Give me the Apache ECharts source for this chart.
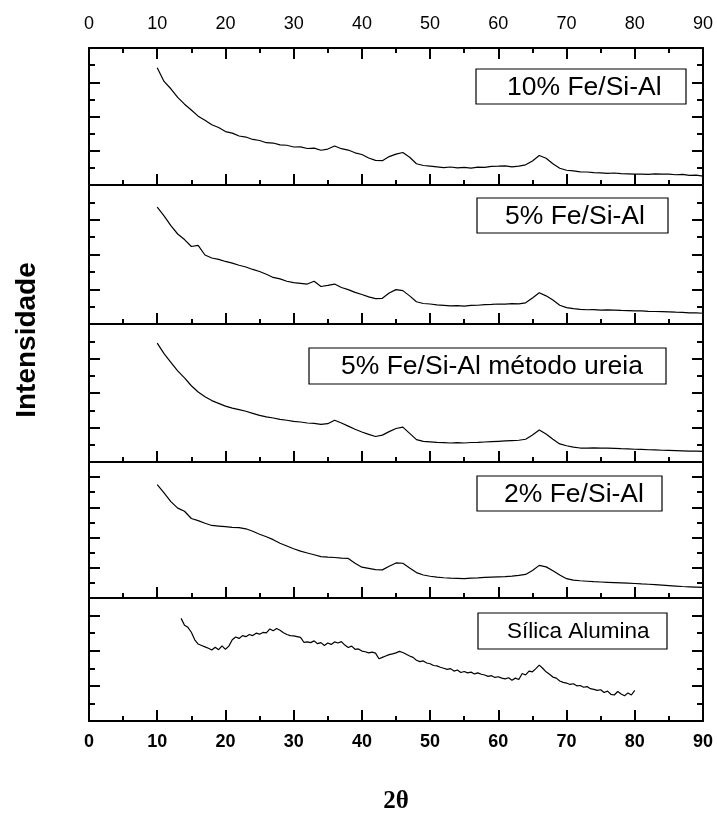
<!DOCTYPE html>
<html>
<head>
<meta charset="utf-8">
<script src="https://cdn.jsdelivr.net/npm/echarts@6/dist/echarts.min.js"></script>
<style>
html,body{margin:0;padding:0;background:#fff;}
#chart{width:717px;height:815px;}
</style>
</head>
<body>
<div id="chart"></div>
<script>
// ---- data ----
const xTicks = [0, 10, 20, 30, 40, 50, 60, 70, 80, 90];
const panelLabels = ['10% Fe/Si-Al', '5% Fe/Si-Al', '5% Fe/Si-Al método ureia', '2% Fe/Si-Al', 'Sílica Alumina'];
const yLabel = 'Intensidade';
const xLabel = '2θ';

const twoTheta = [10,11,12,13,14,15,16,17,18,19,20,21,22,23,24,25,26,27,28,29,30,31,32,33,34,35,36,37,38,39,40,41,42,43,44,45,46,47,48,49,50,51,52,53,54,55,56,57,58,59,60,61,62,63,64,65,66,67,68,69,70,71,72,73,74,75,76,77,78,79,80,81,82,83,84,85,86,87,88,89,90];

const fe10 = [6.85,6.05,5.62,5.12,4.72,4.38,4.02,3.78,3.52,3.36,3.12,3.03,2.86,2.80,2.66,2.60,2.47,2.45,2.34,2.32,2.22,2.23,2.13,2.15,2.03,2.10,2.28,2.12,2.04,1.88,1.78,1.58,1.44,1.42,1.66,1.80,1.90,1.62,1.24,1.14,1.10,1.06,1.02,1.05,1.00,1.03,0.99,1.04,1.03,1.09,1.10,1.12,1.06,1.10,1.18,1.40,1.72,1.56,1.24,0.98,0.86,0.82,0.77,0.76,0.72,0.71,0.68,0.70,0.66,0.65,0.63,0.64,0.62,0.65,0.63,0.64,0.60,0.62,0.56,0.58,0.52];

const fe5 = [6.72,6.22,5.66,5.18,4.86,4.46,4.52,3.97,3.80,3.72,3.60,3.50,3.38,3.28,3.14,3.02,2.86,2.68,2.60,2.46,2.38,2.34,2.30,2.46,2.16,2.22,2.30,2.10,1.98,1.82,1.70,1.56,1.46,1.48,1.78,1.98,1.92,1.62,1.28,1.18,1.15,1.10,1.07,1.04,1.06,1.03,1.07,1.08,1.12,1.13,1.15,1.14,1.17,1.16,1.22,1.50,1.80,1.62,1.38,1.08,0.94,0.88,0.84,0.82,0.83,0.80,0.81,0.80,0.78,0.77,0.76,0.75,0.73,0.72,0.71,0.70,0.68,0.67,0.64,0.64,0.62];

const fe5urea = [6.89,6.28,5.78,5.28,4.88,4.42,4.06,3.78,3.56,3.40,3.24,3.12,3.04,2.94,2.82,2.70,2.62,2.55,2.47,2.42,2.35,2.32,2.26,2.24,2.18,2.22,2.42,2.26,2.08,1.90,1.74,1.60,1.48,1.56,1.76,1.94,2.02,1.66,1.30,1.20,1.17,1.14,1.12,1.10,1.12,1.10,1.13,1.14,1.16,1.18,1.20,1.22,1.24,1.26,1.32,1.56,1.86,1.62,1.32,1.05,0.94,0.86,0.81,0.80,0.82,0.80,0.81,0.79,0.77,0.76,0.74,0.73,0.71,0.70,0.68,0.67,0.66,0.65,0.63,0.63,0.62];

const fe2 = [7.51,6.95,6.38,5.95,5.74,5.26,5.12,4.95,4.80,4.76,4.72,4.68,4.66,4.58,4.42,4.22,4.05,3.86,3.62,3.44,3.26,3.10,2.98,2.86,2.74,2.70,2.68,2.64,2.62,2.30,2.04,1.96,1.88,1.86,2.10,2.32,2.30,1.98,1.68,1.52,1.44,1.38,1.34,1.31,1.30,1.28,1.31,1.33,1.36,1.38,1.40,1.42,1.45,1.50,1.56,1.82,2.16,2.06,1.80,1.52,1.28,1.18,1.14,1.11,1.08,1.06,1.04,1.02,1.00,0.98,0.96,0.93,0.91,0.88,0.85,0.82,0.79,0.76,0.74,0.72,0.70];

const twoThetaSA = [13.5,14,14.5,15,15.5,16,16.5,17,17.5,18,18.5,19,19.5,20,20.5,21,21.5,22,22.5,23,23.5,24,24.5,25,25.5,26,26.5,27,27.5,28,28.5,29,29.5,30,30.5,31,31.5,32,32.5,33,33.5,34,34.5,35,35.5,36,36.5,37,37.5,38,38.5,39,39.5,40,40.5,41,41.5,42,42.5,43,43.5,44,44.5,45,45.5,46,46.5,47,47.5,48,48.5,49,49.5,50,50.5,51,51.5,52,52.5,53,53.5,54,54.5,55,55.5,56,56.5,57,57.5,58,58.5,59,59.5,60,60.5,61,61.5,62,62.5,63,63.5,64,64.5,65,65.5,66,66.5,67,67.5,68,68.5,69,69.5,70,70.5,71,71.5,72,72.5,73,73.5,74,74.5,75,75.5,76,76.5,77,77.5,78,78.5,79,79.5,80];

const silicaAlumina = [5.84,5.45,5.33,5.05,4.62,4.38,4.30,4.22,4.14,4.04,4.20,4.06,4.28,4.08,4.26,4.62,4.78,4.70,4.86,4.80,4.92,4.86,5.00,4.94,5.04,5.02,5.24,5.14,5.26,5.16,5.02,4.92,4.86,4.84,4.80,4.76,4.48,4.50,4.46,4.56,4.40,4.46,4.30,4.44,4.36,4.50,4.44,4.52,4.32,4.18,4.26,4.08,4.10,3.98,3.94,3.88,3.92,3.86,3.54,3.62,3.70,3.78,3.82,3.88,3.96,3.90,3.80,3.70,3.62,3.46,3.38,3.42,3.30,3.26,3.16,3.14,3.06,3.00,2.94,2.98,2.84,2.90,2.76,2.82,2.74,2.78,2.68,2.74,2.66,2.62,2.54,2.58,2.48,2.52,2.44,2.40,2.46,2.32,2.44,2.36,2.70,2.62,2.84,2.80,2.98,3.18,3.00,2.80,2.66,2.50,2.44,2.28,2.20,2.16,2.08,2.12,2.00,2.02,1.92,1.96,1.84,1.80,1.74,1.78,1.62,1.70,1.52,1.48,1.68,1.54,1.44,1.60,1.48,1.74];

const panelYMax = [8, 8, 8, 9, 7];

// ---- layout ----
const panelTops = [48, 185, 324, 462, 598];
const panelHeights = [137, 139, 138, 136, 138];
const boxes = [
  {x: 476, y: 69, w: 210, h: 35, tx: 507, fs: 26.5},
  {x: 477, y: 198, w: 191, h: 35, tx: 505, fs: 26.5},
  {x: 309, y: 348, w: 357, h: 36, tx: 341, fs: 26.5},
  {x: 477, y: 476, w: 185, h: 35, tx: 504, fs: 26.5},
  {x: 478, y: 613, w: 189, h: 36, tx: 507, fs: 22.5}
];

const seriesX = [twoTheta, twoTheta, twoTheta, twoTheta, twoThetaSA];
const seriesY = [fe10, fe5, fe5urea, fe2, silicaAlumina];

const black = '#000';
const grids = [], xAxes = [], yAxes = [], series = [], graphics = [];

for (let i = 0; i < 5; i++) {
  grids.push({left: 89, width: 614, top: panelTops[i], height: panelHeights[i]});
  const tickCommon = {
    axisLine: {show: true, onZero: false, lineStyle: {color: black, width: 2}},
    axisTick: {show: true, inside: true, length: 11, lineStyle: {color: black, width: 2}},
    minorTick: {show: true, splitNumber: 2, length: 5, lineStyle: {color: black, width: 2}},
    splitLine: {show: false},
    minorSplitLine: {show: false}
  };
  xAxes.push(Object.assign({
    type: 'value', gridIndex: i, position: 'bottom', min: 0, max: 90, interval: 10,
    axisLabel: {show: i === 4, color: black, fontFamily: 'Liberation Sans', fontWeight: 'bold', fontSize: 18, margin: 12},
    name: i === 4 ? xLabel : '', nameLocation: 'middle', nameGap: 68,
    nameTextStyle: {color: black, fontFamily: 'Liberation Serif', fontWeight: 'bold', fontSize: 25}
  }, tickCommon));
  yAxes.push(Object.assign({
    type: 'value', gridIndex: i, position: 'left', min: 0, max: panelYMax[i], interval: 2,
    axisLabel: {show: false}
  }, tickCommon, {minorTick: {show: true, splitNumber: 2, length: 6, lineStyle: {color: black, width: 2}}}));
  yAxes.push(Object.assign({
    type: 'value', gridIndex: i, position: 'right', min: 0, max: panelYMax[i], interval: 2,
    axisLabel: {show: false}
  }, tickCommon, {minorTick: {show: true, splitNumber: 2, length: 6, lineStyle: {color: black, width: 2}}}));
  series.push({
    type: 'line', xAxisIndex: i, yAxisIndex: i * 2, showSymbol: false, silent: true,
    lineStyle: {color: black, width: 1.2}, animation: false,
    data: seriesX[i].map((x, k) => [x, seriesY[i][k]])
  });
  const b = boxes[i];
  graphics.push({type: 'rect', shape: {x: b.x, y: b.y, width: b.w, height: b.h},
    style: {fill: '#fff', stroke: black, lineWidth: 1.2}, z: 100});
  graphics.push({type: 'text', x: b.tx, y: b.y + b.h / 2 + 1,
    style: {text: panelLabels[i], fill: black, font: b.fs + 'px "Liberation Sans"', textAlign: 'left', textVerticalAlign: 'middle'}, z: 101});
}
// top axis of first panel
xAxes.push({
  type: 'value', gridIndex: 0, position: 'top', min: 0, max: 90, interval: 10,
  axisLine: {show: true, onZero: false, lineStyle: {color: black, width: 2}},
  axisTick: {show: true, inside: true, length: 11, lineStyle: {color: black, width: 2}},
  minorTick: {show: true, splitNumber: 2, length: 5, lineStyle: {color: black, width: 2}},
  splitLine: {show: false},
  axisLabel: {show: true, color: black, fontFamily: 'Liberation Sans', fontSize: 18, margin: 15}
});
graphics.push({type: 'text', x: 27, y: 340, rotation: Math.PI / 2,
  style: {text: yLabel, fill: black, font: 'bold 28px "Liberation Sans"', textAlign: 'center', textVerticalAlign: 'middle'}});

const chart = echarts.init(document.getElementById('chart'), null, {renderer: 'canvas'});
chart.setOption({
  animation: false,
  backgroundColor: '#fff',
  grid: grids, xAxis: xAxes, yAxis: yAxes, series: series, graphic: graphics
});
</script>
</body>
</html>
